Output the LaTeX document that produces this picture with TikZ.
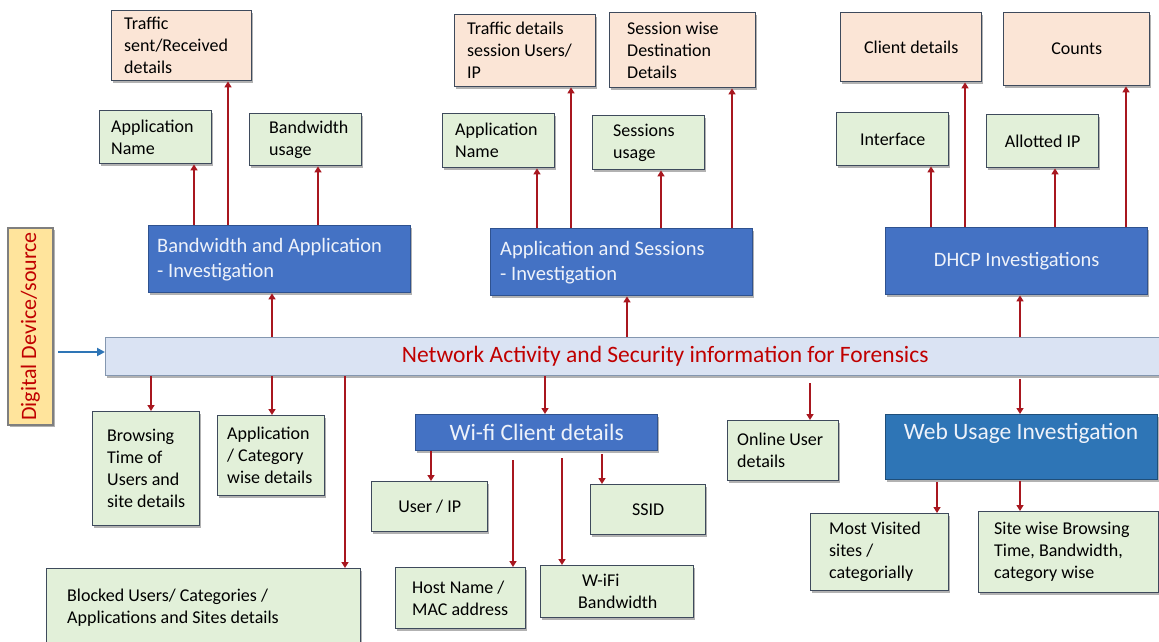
\documentclass[tikz,border=0pt]{standalone}
\usepackage{fontspec}
\setmainfont{Carlito}
\usetikzlibrary{arrows.meta,shadows}

\definecolor{boxgreen}{HTML}{E2F0D9}
\definecolor{boxpeach}{HTML}{FBE5D6}
\definecolor{boxblue}{HTML}{4472C4}
\definecolor{boxblueline}{HTML}{2F528F}
\definecolor{webblue}{HTML}{2E75B6}
\definecolor{webline}{HTML}{1F4E79}
\definecolor{barfill}{HTML}{DAE3F3}
\definecolor{barline}{HTML}{8497B0}
\definecolor{srcfill}{HTML}{FFE49C}
\definecolor{srcline}{HTML}{7F7F7F}
\definecolor{edgegray}{HTML}{3E4A5C}
\definecolor{arrred}{HTML}{A8171F}
\definecolor{txtred}{HTML}{C00000}
\definecolor{srcarrow}{HTML}{2E75B6}
\definecolor{bluetext}{HTML}{EEF2FA}

\tikzset{
  softshadow/.style={drop shadow={shadow xshift=1.5pt,shadow yshift=-2pt,fill=black,opacity=0.3}},
  basebox/.style={draw=edgegray,line width=1.4pt,anchor=north west,inner sep=0pt,
    softshadow,font=\fontsize{18}{22}\selectfont,align=center},
  gbox/.style={basebox,fill=boxgreen},
  pbox/.style={basebox,fill=boxpeach},
  bbox/.style={basebox,draw=boxblueline,fill=boxblue,text=bluetext,
    font=\fontsize{20.5}{25}\selectfont},
  darktext/.style={font=\fontsize{18}{22}\selectfont,inner sep=0pt,anchor=west,align=left},
  lighttext/.style={font=\fontsize{20.5}{25}\selectfont,text=bluetext,inner sep=0pt,anchor=west,align=left},
  arr/.style={draw=arrred,line width=2.1pt,-{Triangle[length=6pt,width=7pt]}},
}

% box with left-aligned text:
% #1 box style, #2 text style, #3 name, #4 top-left corner, #5 width, #6 height, #7 left padding, #8 text
\newcommand\leftbox[8]{%
  \node[#1,minimum width=#5pt,minimum height=#6pt] (#3) at (#4) {};
  \node[#2] (#3-text) at ([xshift=#7pt]#3.west) {#8};
}

\begin{document}
\begin{tikzpicture}[x=1pt,y=-1pt]
\useasboundingbox (0,0) rectangle (1159,642);
\clip (0,0) rectangle (1159,642);

% ---- upper left: bandwidth and application
\leftbox{pbox}{darktext}{traffic}{111,10}{140}{70}{13}{Traffic\\sent/Received\\details}
\leftbox{gbox}{darktext}{appname}{99,110}{112}{53}{12}{Application\\Name}
\leftbox{gbox}{darktext}{bwusage}{249,113}{112}{52}{20}{Bandwidth\\usage}
\leftbox{bbox}{lighttext}{bwapp}{148,225}{262}{67}{9}{Bandwidth and Application\\- Investigation}

% ---- upper middle: application and sessions
\leftbox{pbox}{darktext}{trafsess}{454,14}{141}{72}{13}{Traffic details\\session Users/\\IP}
\leftbox{pbox}{darktext}{sessdest}{609,12}{146}{75}{18}{Session wise\\Destination\\Details}
\leftbox{gbox}{darktext}{appname2}{442,113}{112}{54}{13}{Application\\Name}
\leftbox{gbox}{darktext}{sessusage}{592,115}{112}{54}{21}{Sessions\\usage}
\leftbox{bbox}{lighttext}{appsess}{490,228}{262}{67}{10}{Application and Sessions\\- Investigation}

% ---- upper right: DHCP
\node[pbox,minimum width=141pt,minimum height=69pt] (client) at (840,12) {Client details};
\node[pbox,minimum width=146pt,minimum height=73pt] (counts) at (1003,12) {Counts};
\node[gbox,minimum width=112pt,minimum height=53pt] (iface) at (836,112) {Interface};
\node[gbox,minimum width=112pt,minimum height=53pt] (allotted) at (986,114) {Allotted IP};
\node[bbox,minimum width=262pt,minimum height=67pt] (dhcp) at (885,227) {DHCP Investigations};

% ---- central bar and source
\node[draw=barline,line width=1.4pt,fill=barfill,softshadow,anchor=north west,
      minimum width=1119pt,minimum height=38pt,inner sep=0pt,text=txtred,
      font=\fontsize{23.5}{26}\selectfont] (bar) at (105,337)
      {Network Activity and Security information for Forensics};
\node[draw=srcline,line width=1.4pt,fill=srcfill,softshadow,rotate=90,
      minimum width=197pt,minimum height=45pt,inner sep=0pt,text=txtred,
      font=\fontsize{22}{24}\selectfont] (source) at (30.5,326.5) {Digital Device/source};
\coordinate (srcstart) at (58,352);
\draw[draw=srcarrow,line width=2.4pt,-{Triangle[length=8pt,width=8pt]}] (srcstart) -- (srcstart -| bar.west);

% ---- lower left
\leftbox{gbox}{darktext}{browse}{92,411}{107}{114}{15}{Browsing\\Time of\\Users and\\site details}
\leftbox{gbox}{darktext}{appcat}{217,415}{107}{80}{10}{Application\\/ Category\\wise details}
\leftbox{gbox}{darktext}{blocked}{46,568}{314}{77}{21}{Blocked Users/ Categories /\\Applications and Sites details}

% ---- lower middle: Wi-fi clients
\node[bbox,minimum width=242pt,minimum height=36pt,font=\fontsize{23.5}{26}\selectfont] (wifi) at (415,414) {Wi-fi Client details};
\node[gbox,minimum width=116pt,minimum height=50pt] (userip) at (371,481) {User / IP};
\node[gbox,minimum width=115pt,minimum height=50pt] (ssid) at (590,484) {SSID};
\leftbox{gbox}{darktext}{host}{395,567}{130}{61}{17}{Host Name /\\MAC address}
\leftbox{gbox}{darktext}{wifibw}{540,565}{153}{52}{38}{\hspace*{4pt}W-iFi\\Bandwidth}

% ---- lower right: web usage
\leftbox{gbox}{darktext}{online}{727,420}{111}{60}{10}{Online User\\details}
\node[basebox,draw=webline,fill=webblue,minimum width=272pt,minimum height=65pt] (web) at (885,414) {};
\node[text=bluetext,font=\fontsize{23.5}{26}\selectfont,inner sep=0pt] (web-text) at (1021,433) {Web Usage Investigation};
\leftbox{gbox}{darktext}{mostvis}{810,513}{138}{77}{19}{Most Visited\\sites /\\categorially}
\leftbox{gbox}{darktext}{sitewise}{978,511}{180}{81}{16}{Site wise Browsing\\Time, Bandwidth,\\category wise}

% ---- connectors: bar to investigations above
\draw[arr] (272,0 |- bar.north) -- (272,0 |- bwapp.south);
\draw[arr] (627,0 |- bar.north) -- (627,0 |- appsess.south);
\draw[arr] (1020,0 |- bar.north) -- (1020,0 |- dhcp.south);

% ---- investigations to their details
\draw[arr] (194,0 |- bwapp.north) -- (194,0 |- appname.south);
\draw[arr] (228,0 |- bwapp.north) -- (228,0 |- traffic.south);
\draw[arr] (318,0 |- bwapp.north) -- (318,0 |- bwusage.south);
\draw[arr] (537,0 |- appsess.north) -- (537,0 |- appname2.south);
\draw[arr] (571,0 |- appsess.north) -- (571,0 |- trafsess.south);
\draw[arr] (661,0 |- appsess.north) -- (661,0 |- sessusage.south);
\draw[arr] (732,0 |- appsess.north) -- (732,0 |- sessdest.south);
\draw[arr] (931,0 |- dhcp.north) -- (931,0 |- iface.south);
\draw[arr] (965,0 |- dhcp.north) -- (965,0 |- client.south);
\draw[arr] (1055,0 |- dhcp.north) -- (1055,0 |- allotted.south);
\draw[arr] (1126,0 |- dhcp.north) -- (1126,0 |- counts.south);

% ---- bar to the items below
\draw[arr] (151,0 |- bar.south) -- (151,0 |- browse.north);
\draw[arr] (272,0 |- bar.south) -- (272,0 |- appcat.north);
\draw[arr] (345,0 |- bar.south) -- (345,0 |- blocked.north);
\draw[arr] (545,0 |- bar.south) -- (545,0 |- wifi.north);
\draw[arr,shorten <=7pt] (810,0 |- bar.south) -- (810,0 |- online.north);
\draw[arr,shorten <=3pt] (1020,0 |- bar.south) -- (1020,0 |- web.north);

% ---- Wi-fi client details
\draw[arr] (431,0 |- wifi.south) -- (431,0 |- userip.north);
\draw[arr,shorten <=3pt] (602,0 |- wifi.south) -- (602,0 |- ssid.north);
\draw[arr,shorten <=9pt] (513,0 |- wifi.south) -- (513,0 |- host.north);
\draw[arr,shorten <=7pt] (562,0 |- wifi.south) -- (562,0 |- wifibw.north);

% ---- web usage details
\draw[arr,shorten <=2pt] (937,0 |- web.south) -- (937,0 |- mostvis.north);
\draw[arr,shorten <=1pt] (1020,0 |- web.south) -- (1020,0 |- sitewise.north);
\end{tikzpicture}
\end{document}
